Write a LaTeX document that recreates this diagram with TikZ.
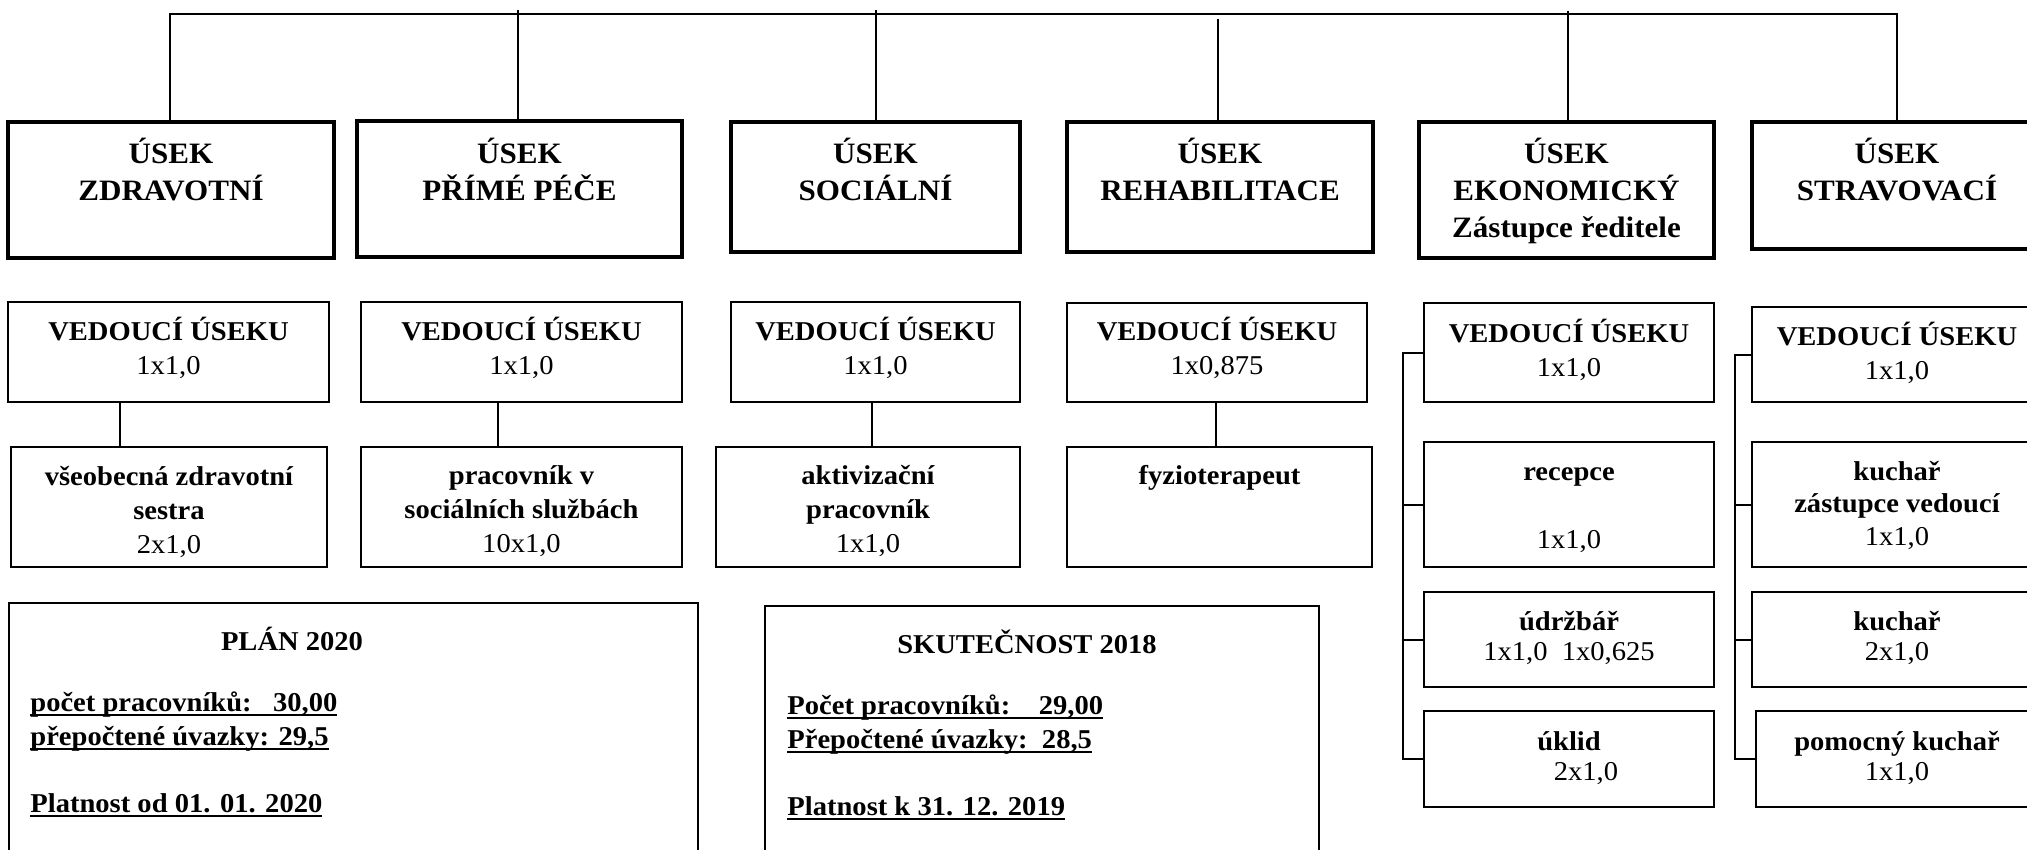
\documentclass[tikz,border=0pt]{standalone}
\usepackage{fontspec}
\setmainfont{Liberation Serif}[FakeStretch=1.05]
\usetikzlibrary{fit}
\newcommand\stt{\rule{0pt}{16pt}}
\newcommand\myul[1]{\sbox0{#1}\rlap{\rule[-2.4pt]{\wd0}{1.3pt}}\usebox0}
\newcommand\mkbox[6]{\node[#6,fit={(#2,#3) (#4,#5)}] (#1) {};}
\begin{document}
\begin{tikzpicture}[x=0.5pt,y=-0.5pt,
  titlebox/.style={draw,line width=1.8pt,inner sep=0pt},
  plainbox/.style={draw,line width=1pt,inner sep=0pt},
  conn/.style={line width=1.2pt},
  brk/.style={line width=1pt},
  ttl/.style={anchor=north,align=center,inner sep=0pt,font=\fontsize{14.8}{18.5}\selectfont\bfseries},
  txt/.style={anchor=north,align=center,inner sep=0pt,font=\fontsize{13.6}{17}\selectfont\bfseries},
  ltxt/.style={anchor=north west,align=left,inner sep=0pt,font=\fontsize{13.6}{17}\selectfont\bfseries}]
\useasboundingbox (0,0) rectangle (2027,850);
\clip (0,0) rectangle (2027,850);
\fill[white] (0,0) rectangle (2027,850);

% section boxes
\mkbox{T1}{8}{122}{334}{258}{titlebox}
\mkbox{T2}{357}{121}{682}{257}{titlebox}
\mkbox{T3}{731}{122}{1020}{252}{titlebox}
\mkbox{T4}{1067}{122}{1373}{252}{titlebox}
\mkbox{T5}{1419}{122}{1714}{258}{titlebox}
\mkbox{T6}{1752}{122}{2060}{249}{titlebox}
\node[ttl] (t1) at (171,131) {\stt ÚSEK\\ZDRAVOTNÍ};
\node[ttl] (t2) at (519.5,131) {\stt ÚSEK\\PŘÍMÉ PÉČE};
\node[ttl] (t3) at (875.5,131) {\stt ÚSEK\\SOCIÁLNÍ};
\node[ttl] (t4) at (1220,131) {\stt ÚSEK\\REHABILITACE};
\node[ttl] (t5) at (1566.5,131) {\stt ÚSEK\\EKONOMICKÝ\\Zástupce ředitele};
\node[ttl] (t6) at (1897,131) {\stt ÚSEK\\STRAVOVACÍ};

% top connectors
\coordinate (L) at (170,14);
\coordinate (R) at (1897,14);
\draw[conn] (L |- T1.north) -- (L) -- (R) -- (R |- T6.north);
\coordinate (c2) at (518,10);
\coordinate (c3) at (876,10);
\coordinate (c4) at (1218,19);
\coordinate (c5) at (1568,11);
\draw[conn] (c2) -- (c2 |- T2.north);
\draw[conn] (c3) -- (c3 |- T3.north);
\draw[conn] (c4) -- (c4 |- T4.north);
\draw[conn] (c5) -- (c5 |- T5.north);

% heads
\mkbox{V1}{8}{302}{329}{402}{plainbox}
\mkbox{V2}{361}{302}{682}{402}{plainbox}
\mkbox{V3}{731}{302}{1020}{402}{plainbox}
\mkbox{V4}{1067}{303}{1367}{402}{plainbox}
\mkbox{V5}{1424}{303}{1714}{402}{plainbox}
\mkbox{V6}{1752}{307}{2060}{402}{plainbox}
\node[txt] (v1) at (168.5,308) {\stt VEDOUCÍ ÚSEKU\\{\mdseries 1x1,0}};
\node[txt] (v2) at (521.5,308) {\stt VEDOUCÍ ÚSEKU\\{\mdseries 1x1,0}};
\node[txt] (v3) at (875.5,308) {\stt VEDOUCÍ ÚSEKU\\{\mdseries 1x1,0}};
\node[txt] (v4) at (1217,308) {\stt VEDOUCÍ ÚSEKU\\{\mdseries 1x0,875}};
\node[txt] (v5) at (1569,310) {\stt VEDOUCÍ ÚSEKU\\{\mdseries 1x1,0}};
\node[txt] (v6) at (1897,313) {\stt VEDOUCÍ ÚSEKU\\{\mdseries 1x1,0}};

% staff
\mkbox{S1}{11}{447}{327}{567}{plainbox}
\mkbox{S2}{361}{447}{682}{567}{plainbox}
\mkbox{S3}{716}{447}{1020}{567}{plainbox}
\mkbox{S4}{1067}{447}{1372}{567}{plainbox}
\node[txt] (s1) at (169,453) {\stt všeobecná zdravotní\\sestra\\{\mdseries 2x1,0}};
\node[txt] (s2) at (521.5,452) {\stt pracovník v\\sociálních službách\\{\mdseries 10x1,0}};
\node[txt] (s3) at (868,452) {\stt aktivizační\\pracovník\\{\mdseries 1x1,0}};
\node[txt] (s4) at (1219.5,452) {\stt fyzioterapeut};
\coordinate (d1) at (120,0);
\coordinate (d2) at (498,0);
\coordinate (d3) at (872,0);
\coordinate (d4) at (1216,0);
\draw[conn] (d1 |- V1.south) -- (d1 |- S1.north);
\draw[conn] (d2 |- V2.south) -- (d2 |- S2.north);
\draw[conn] (d3 |- V3.south) -- (d3 |- S3.north);
\draw[conn] (d4 |- V4.south) -- (d4 |- S4.north);

% economic column
\mkbox{E2}{1424}{442}{1714}{567}{plainbox}
\mkbox{E3}{1424}{592}{1714}{687}{plainbox}
\mkbox{E4}{1424}{711}{1714}{807}{plainbox}
\node[txt] (e2) at (1569,448) {\stt recepce\\~\\{\mdseries 1x1,0}};
\node[txt] (e3) at (1569,598) {\stt údržbář\\[-2pt]{\mdseries 1x1,0\ \ 1x0,625}};
\node[txt] (e4) at (1569,718) {\stt úklid\\[-2pt]{\mdseries\hspace*{17pt}2x1,0}};
\coordinate (bl) at (1403,0);
\draw[brk] (V5.west) -- (V5.west -| bl) -- (E4.west -| bl) -- (E4.west);
\draw[brk] (E2.west) -- (E2.west -| bl);
\draw[brk] (E3.west) -- (E3.west -| bl);

% kitchen column
\mkbox{K2}{1752}{442}{2060}{567}{plainbox}
\mkbox{K3}{1752}{592}{2060}{687}{plainbox}
\mkbox{K4}{1756}{711}{2060}{807}{plainbox}
\node[txt] (k2) at (1897,448) {\stt kuchař\\[-0.75pt]zástupce vedoucí\\[-0.75pt]{\mdseries 1x1,0}};
\node[txt] (k3) at (1897,598) {\stt kuchař\\[-2pt]{\mdseries 2x1,0}};
\node[txt] (k4) at (1897,718) {\stt pomocný kuchař\\[-2pt]{\mdseries 1x1,0}};
\coordinate (br) at (1735,0);
\draw[brk] (V6.west) -- (V6.west -| br) -- (K4.west -| br) -- (K4.west);
\draw[brk] (K2.west) -- (K2.west -| br);
\draw[brk] (K3.west) -- (K3.west -| br);

% summary boxes
\mkbox{B1}{9}{603}{698}{880}{plainbox}
\mkbox{B2}{765}{606}{1319}{880}{plainbox}
\node[txt] (p1) at (292,618) {\stt PLÁN 2020};
\node[ltxt] (p2) at (30,679) {\stt\myul{počet pracovníků:\ \ \ 30,00}\\\myul{přepočtené úvazky: 29,5}\\[16.5pt]\myul{Platnost od 01. 01. 2020}};
\node[txt] (q1) at (1027,621) {\stt SKUTEČNOST 2018};
\node[ltxt] (q2) at (787,682) {\stt\myul{Počet pracovníků:\ \ \ \ 29,00}\\\myul{Přepočtené úvazky:\ \ 28,5}\\[16.5pt]\myul{Platnost k 31. 12. 2019}};
\end{tikzpicture}
\end{document}
